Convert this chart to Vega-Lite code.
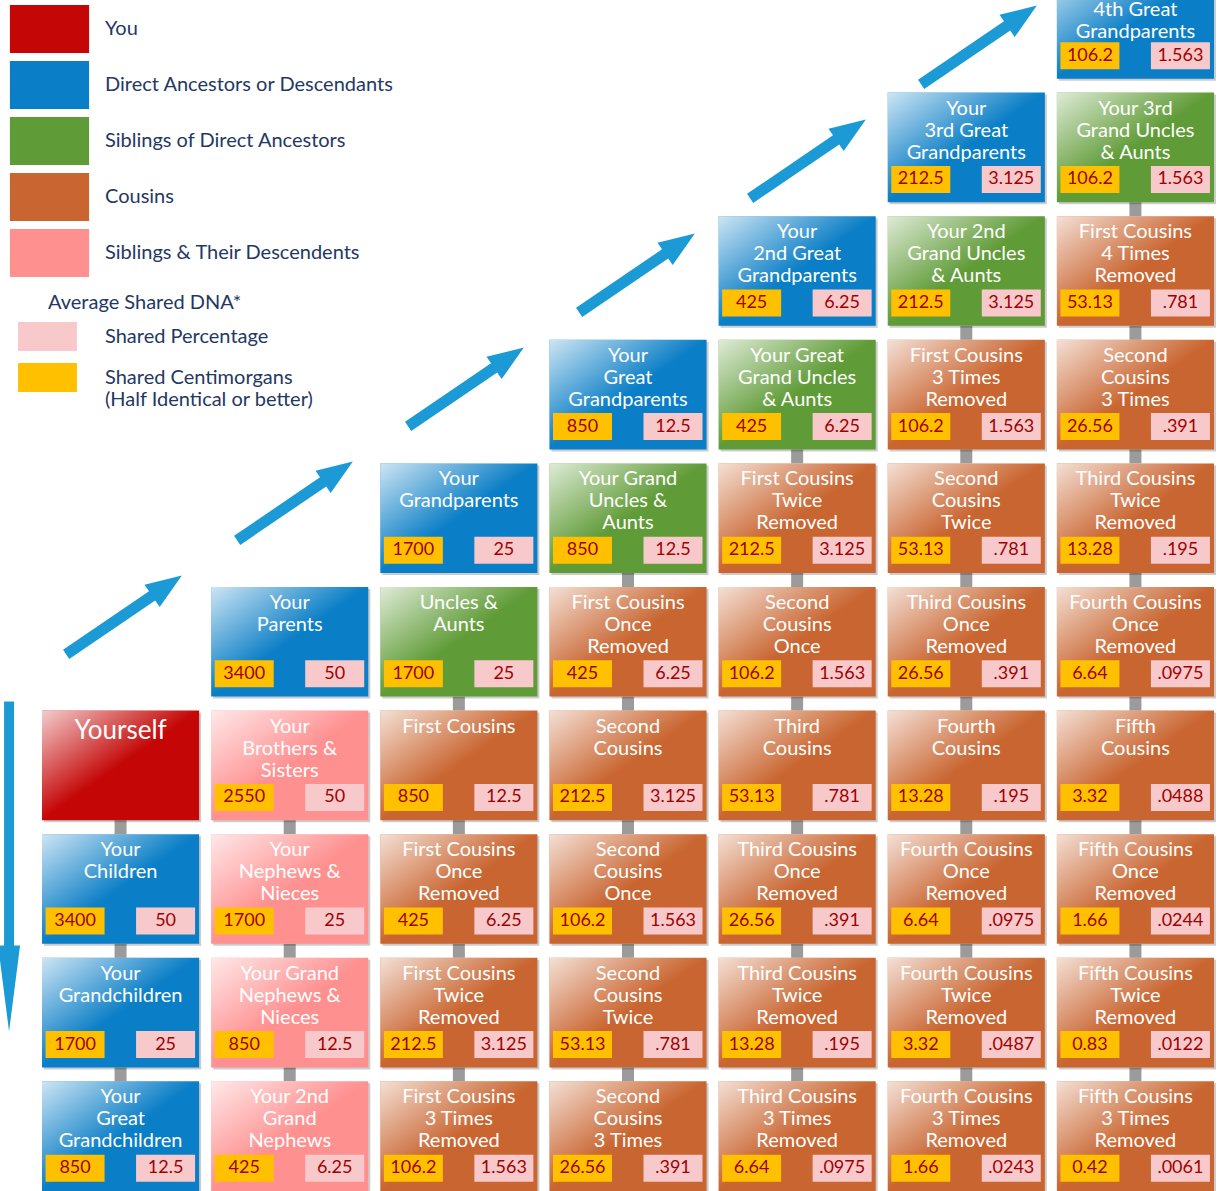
{
 "$schema": "https://vega.github.io/schema/vega-lite/v6.json",
 "width": 1219, "height": 1191,
 "autosize": {"type": "none"},
 "padding": 0,
 "background": "white",
 "config": {"view": {"stroke": null}, "font": "Lato"},
 "datasets": {
  "cells": [
   {"col":6,"gen":6,"cat":"Direct Ancestors or Descendants","title":"4th Great\nGrandparents","cm":"106.2","pct":"1.563"},
   {"col":5,"gen":5,"cat":"Direct Ancestors or Descendants","title":"Your\n3rd Great\nGrandparents","cm":"212.5","pct":"3.125"},
   {"col":6,"gen":5,"cat":"Siblings of Direct Ancestors","title":"Your 3rd\nGrand Uncles\n& Aunts","cm":"106.2","pct":"1.563"},
   {"col":4,"gen":4,"cat":"Direct Ancestors or Descendants","title":"Your\n2nd Great\nGrandparents","cm":"425","pct":"6.25"},
   {"col":5,"gen":4,"cat":"Siblings of Direct Ancestors","title":"Your 2nd\nGrand Uncles\n& Aunts","cm":"212.5","pct":"3.125"},
   {"col":6,"gen":4,"cat":"Cousins","title":"First Cousins\n4 Times\nRemoved","cm":"53.13","pct":".781"},
   {"col":3,"gen":3,"cat":"Direct Ancestors or Descendants","title":"Your\nGreat\nGrandparents","cm":"850","pct":"12.5"},
   {"col":4,"gen":3,"cat":"Siblings of Direct Ancestors","title":"Your Great\nGrand Uncles\n& Aunts","cm":"425","pct":"6.25"},
   {"col":5,"gen":3,"cat":"Cousins","title":"First Cousins\n3 Times\nRemoved","cm":"106.2","pct":"1.563"},
   {"col":6,"gen":3,"cat":"Cousins","title":"Second\nCousins\n3 Times","cm":"26.56","pct":".391"},
   {"col":2,"gen":2,"cat":"Direct Ancestors or Descendants","title":"Your\nGrandparents","cm":"1700","pct":"25"},
   {"col":3,"gen":2,"cat":"Siblings of Direct Ancestors","title":"Your Grand\nUncles &\nAunts","cm":"850","pct":"12.5"},
   {"col":4,"gen":2,"cat":"Cousins","title":"First Cousins\nTwice\nRemoved","cm":"212.5","pct":"3.125"},
   {"col":5,"gen":2,"cat":"Cousins","title":"Second\nCousins\nTwice","cm":"53.13","pct":".781"},
   {"col":6,"gen":2,"cat":"Cousins","title":"Third Cousins\nTwice\nRemoved","cm":"13.28","pct":".195"},
   {"col":1,"gen":1,"cat":"Direct Ancestors or Descendants","title":"Your\nParents","cm":"3400","pct":"50"},
   {"col":2,"gen":1,"cat":"Siblings of Direct Ancestors","title":"Uncles &\nAunts","cm":"1700","pct":"25"},
   {"col":3,"gen":1,"cat":"Cousins","title":"First Cousins\nOnce\nRemoved","cm":"425","pct":"6.25"},
   {"col":4,"gen":1,"cat":"Cousins","title":"Second\nCousins\nOnce","cm":"106.2","pct":"1.563"},
   {"col":5,"gen":1,"cat":"Cousins","title":"Third Cousins\nOnce\nRemoved","cm":"26.56","pct":".391"},
   {"col":6,"gen":1,"cat":"Cousins","title":"Fourth Cousins\nOnce\nRemoved","cm":"6.64","pct":".0975"},
   {"col":0,"gen":0,"cat":"You","title":"Yourself"},
   {"col":1,"gen":0,"cat":"Siblings & Their Descendents","title":"Your\nBrothers &\nSisters","cm":"2550","pct":"50"},
   {"col":2,"gen":0,"cat":"Cousins","title":"First Cousins","cm":"850","pct":"12.5"},
   {"col":3,"gen":0,"cat":"Cousins","title":"Second\nCousins","cm":"212.5","pct":"3.125"},
   {"col":4,"gen":0,"cat":"Cousins","title":"Third\nCousins","cm":"53.13","pct":".781"},
   {"col":5,"gen":0,"cat":"Cousins","title":"Fourth\nCousins","cm":"13.28","pct":".195"},
   {"col":6,"gen":0,"cat":"Cousins","title":"Fifth\nCousins","cm":"3.32","pct":".0488"},
   {"col":0,"gen":-1,"cat":"Direct Ancestors or Descendants","title":"Your\nChildren","cm":"3400","pct":"50"},
   {"col":1,"gen":-1,"cat":"Siblings & Their Descendents","title":"Your\nNephews &\nNieces","cm":"1700","pct":"25"},
   {"col":2,"gen":-1,"cat":"Cousins","title":"First Cousins\nOnce\nRemoved","cm":"425","pct":"6.25"},
   {"col":3,"gen":-1,"cat":"Cousins","title":"Second\nCousins\nOnce","cm":"106.2","pct":"1.563"},
   {"col":4,"gen":-1,"cat":"Cousins","title":"Third Cousins\nOnce\nRemoved","cm":"26.56","pct":".391"},
   {"col":5,"gen":-1,"cat":"Cousins","title":"Fourth Cousins\nOnce\nRemoved","cm":"6.64","pct":".0975"},
   {"col":6,"gen":-1,"cat":"Cousins","title":"Fifth Cousins\nOnce\nRemoved","cm":"1.66","pct":".0244"},
   {"col":0,"gen":-2,"cat":"Direct Ancestors or Descendants","title":"Your\nGrandchildren","cm":"1700","pct":"25"},
   {"col":1,"gen":-2,"cat":"Siblings & Their Descendents","title":"Your Grand\nNephews &\nNieces","cm":"850","pct":"12.5"},
   {"col":2,"gen":-2,"cat":"Cousins","title":"First Cousins\nTwice\nRemoved","cm":"212.5","pct":"3.125"},
   {"col":3,"gen":-2,"cat":"Cousins","title":"Second\nCousins\nTwice","cm":"53.13","pct":".781"},
   {"col":4,"gen":-2,"cat":"Cousins","title":"Third Cousins\nTwice\nRemoved","cm":"13.28","pct":".195"},
   {"col":5,"gen":-2,"cat":"Cousins","title":"Fourth Cousins\nTwice\nRemoved","cm":"3.32","pct":".0487"},
   {"col":6,"gen":-2,"cat":"Cousins","title":"Fifth Cousins\nTwice\nRemoved","cm":"0.83","pct":".0122"},
   {"col":0,"gen":-3,"cat":"Direct Ancestors or Descendants","title":"Your\nGreat\nGrandchildren","cm":"850","pct":"12.5"},
   {"col":1,"gen":-3,"cat":"Siblings & Their Descendents","title":"Your 2nd\nGrand\nNephews","cm":"425","pct":"6.25"},
   {"col":2,"gen":-3,"cat":"Cousins","title":"First Cousins\n3 Times\nRemoved","cm":"106.2","pct":"1.563"},
   {"col":3,"gen":-3,"cat":"Cousins","title":"Second\nCousins\n3 Times","cm":"26.56","pct":".391"},
   {"col":4,"gen":-3,"cat":"Cousins","title":"Third Cousins\n3 Times\nRemoved","cm":"6.64","pct":".0975"},
   {"col":5,"gen":-3,"cat":"Cousins","title":"Fourth Cousins\n3 Times\nRemoved","cm":"1.66","pct":".0243"},
   {"col":6,"gen":-3,"cat":"Cousins","title":"Fifth Cousins\n3 Times\nRemoved","cm":"0.42","pct":".0061"}
  ],
  "arrows": [{"step":1},{"step":2},{"step":3},{"step":4},{"step":5},{"step":6}]
 },
 "layer": [
  {
   "data": {"name": "cells"},
   "layer": [
    {
     "transform": [{"filter": "datum.gen > -3 && (datum.cat != 'Direct Ancestors or Descendants' || datum.gen <= 0)"}],
     "mark": {"type": "point", "shape": "M-6,0H6V14H-6Z", "size": 4, "filled": true, "opacity": 1, "color": "#9B9B9B", "strokeWidth": 0},
     "encoding": {
      "x": {"field":"col","type":"ordinal","scale":{"type":"band","domain":[0,1,2,3,4,5,6],"range":[42,1214],"paddingInner":0.071,"paddingOuter":0},"axis":null},
      "y": {"field":"gen","type":"ordinal","bandPosition":1,"scale":{"type":"band","domain":[6,5,4,3,2,1,0,-1,-2,-3],"range":[-31,1191],"paddingInner":0.113,"paddingOuter":0},"axis":null}
     }
    },
    {
     "mark": {"type": "rect", "color": "#000000", "opacity": 0.2, "xOffset": 2, "yOffset": 2, "x2Offset": 2, "y2Offset": 2},
     "encoding": {
      "x": {"field":"col","type":"ordinal","scale":{"type":"band","domain":[0,1,2,3,4,5,6],"range":[42,1214],"paddingInner":0.071,"paddingOuter":0},"axis":null},
      "y": {"field":"gen","type":"ordinal","scale":{"type":"band","domain":[6,5,4,3,2,1,0,-1,-2,-3],"range":[-31,1191],"paddingInner":0.113,"paddingOuter":0},"axis":null}
     }
    },
    {
     "mark": {"type": "rect", "opacity": 1},
     "encoding": {
      "x": {"field":"col","type":"ordinal","scale":{"type":"band","domain":[0,1,2,3,4,5,6],"range":[42,1214],"paddingInner":0.071,"paddingOuter":0},"axis":null},
      "y": {"field":"gen","type":"ordinal","scale":{"type":"band","domain":[6,5,4,3,2,1,0,-1,-2,-3],"range":[-31,1191],"paddingInner":0.113,"paddingOuter":0},"axis":null},
      "color": {
       "field": "cat", "type": "nominal",
       "scale": {
        "domain": ["You","Direct Ancestors or Descendants","Siblings of Direct Ancestors","Cousins","Siblings & Their Descendents"],
        "range": ["#C40606", "#0A7EC6", "#5F9B36", "#C96530", "#FF9090"]
       },
       "legend": {"title": null, "orient": "none", "legendX": 25.5, "legendY": 5, "symbolType": "M-1.65,-1H1.65V1H-1.65Z", "symbolSize": 2304, "symbolStrokeWidth": 0, "symbolOpacity": 1, "labelFontSize": 20, "labelFont": "Lato", "labelColor": "#1F3864", "labelOffset": 31.5, "rowPadding": 8, "labelLimit": 500, "padding": 0}
      }
     }
    },
    {
     "mark": {"type": "rect", "opacity": 1, "color": {"gradient":"linear","x1":0,"y1":0,"x2":1,"y2":1,"stops":[{"offset":0,"color":"rgba(255,255,255,0.8)"},{"offset":0.5,"color":"rgba(255,255,255,0)"},{"offset":1,"color":"rgba(255,255,255,0)"}]}},
     "encoding": {
      "x": {"field":"col","type":"ordinal","scale":{"type":"band","domain":[0,1,2,3,4,5,6],"range":[42,1214],"paddingInner":0.071,"paddingOuter":0},"axis":null},
      "y": {"field":"gen","type":"ordinal","scale":{"type":"band","domain":[6,5,4,3,2,1,0,-1,-2,-3],"range":[-31,1191],"paddingInner":0.113,"paddingOuter":0},"axis":null}
     }
    },
    {
     "transform": [{"filter": "isValid(datum.cm)"}],
     "mark": {"type": "point", "shape": "M-29.5,-13.5H29.5V13.5H-29.5Z", "size": 4, "filled": true, "opacity": 1, "strokeWidth": 0, "xOffset": -45.5, "yOffset": 32},
     "encoding": {
      "x": {"field":"col","type":"ordinal","scale":{"type":"band","domain":[0,1,2,3,4,5,6],"range":[42,1214],"paddingInner":0.071,"paddingOuter":0},"axis":null},
      "y": {"field":"gen","type":"ordinal","scale":{"type":"band","domain":[6,5,4,3,2,1,0,-1,-2,-3],"range":[-31,1191],"paddingInner":0.113,"paddingOuter":0},"axis":null},
      "fill": {
       "datum": "cm", "type": "nominal",
       "scale": {"domain": ["pct","cm"], "range": ["#F8C9CB","#FFC000"]},
       "legend": {"title": "Average Shared DNA*", "orient": "none", "legendX": 48, "legendY": 293, "titleFontSize": 20, "titleFont": "Lato", "titleColor": "#1F3864", "titleFontWeight": "normal", "titlePadding": 9, "titleLimit": 500, "symbolType": "M-2.03,-1H2.03V1H-2.03Z", "symbolSize": 841, "symbolOffset": -15, "symbolStrokeWidth": 0, "symbolOpacity": 1, "labelExpr": "datum.value == 'pct' ? 'Shared Percentage' : ['Shared Centimorgans', '(Half Identical or better)']", "labelFontSize": 20, "labelFont": "Lato", "labelColor": "#1F3864", "labelOffset": 43, "rowPadding": 12, "labelLimit": 500, "padding": 0}
      }
     }
    },
    {
     "transform": [{"filter": "isValid(datum.pct)"}],
     "mark": {"type": "point", "shape": "M-29.5,-13.5H29.5V13.5H-29.5Z", "size": 4, "filled": true, "opacity": 1, "strokeWidth": 0, "xOffset": 45, "yOffset": 32},
     "encoding": {
      "x": {"field":"col","type":"ordinal","scale":{"type":"band","domain":[0,1,2,3,4,5,6],"range":[42,1214],"paddingInner":0.071,"paddingOuter":0},"axis":null},
      "y": {"field":"gen","type":"ordinal","scale":{"type":"band","domain":[6,5,4,3,2,1,0,-1,-2,-3],"range":[-31,1191],"paddingInner":0.113,"paddingOuter":0},"axis":null},
      "fill": {"datum": "pct", "type": "nominal"}
     }
    },
    {
     "transform": [{"filter": "isValid(datum.cm)"}],
     "mark": {"type": "text", "fontSize": 18, "font": "Lato", "color": "#A00000", "dx": -45.5, "dy": 32, "baseline": "middle", "align": "center"},
     "encoding": {
      "x": {"field":"col","type":"ordinal","scale":{"type":"band","domain":[0,1,2,3,4,5,6],"range":[42,1214],"paddingInner":0.071,"paddingOuter":0},"axis":null},
      "y": {"field":"gen","type":"ordinal","scale":{"type":"band","domain":[6,5,4,3,2,1,0,-1,-2,-3],"range":[-31,1191],"paddingInner":0.113,"paddingOuter":0},"axis":null},
      "text": {"field": "cm", "type": "nominal"}
     }
    },
    {
     "transform": [{"filter": "isValid(datum.pct)"}],
     "mark": {"type": "text", "fontSize": 18, "font": "Lato", "color": "#A00000", "dx": 45, "dy": 32, "baseline": "middle", "align": "center"},
     "encoding": {
      "x": {"field":"col","type":"ordinal","scale":{"type":"band","domain":[0,1,2,3,4,5,6],"range":[42,1214],"paddingInner":0.071,"paddingOuter":0},"axis":null},
      "y": {"field":"gen","type":"ordinal","scale":{"type":"band","domain":[6,5,4,3,2,1,0,-1,-2,-3],"range":[-31,1191],"paddingInner":0.113,"paddingOuter":0},"axis":null},
      "text": {"field": "pct", "type": "nominal"}
     }
    },
    {
     "transform": [{"filter": "datum.cat != 'You' && datum.gen != 6"}],
     "mark": {"type": "text", "lineBreak": "\n", "fontSize": 20, "lineHeight": 22, "font": "Lato", "color": "#FFFFFF", "baseline": "top", "align": "center", "dy": 6},
     "encoding": {
      "x": {"field":"col","type":"ordinal","scale":{"type":"band","domain":[0,1,2,3,4,5,6],"range":[42,1214],"paddingInner":0.071,"paddingOuter":0},"axis":null},
      "y": {"field":"gen","type":"ordinal","bandPosition":0,"scale":{"type":"band","domain":[6,5,4,3,2,1,0,-1,-2,-3],"range":[-31,1191],"paddingInner":0.113,"paddingOuter":0},"axis":null},
      "text": {"field": "title", "type": "nominal"}
     }
    },
    {
     "transform": [{"filter": "datum.gen == 6"}],
     "mark": {"type": "text", "lineBreak": "\n", "fontSize": 20, "lineHeight": 22, "font": "Lato", "color": "#FFFFFF", "baseline": "top", "align": "center", "dy": 31},
     "encoding": {
      "x": {"field":"col","type":"ordinal","scale":{"type":"band","domain":[0,1,2,3,4,5,6],"range":[42,1214],"paddingInner":0.071,"paddingOuter":0},"axis":null},
      "y": {"field":"gen","type":"ordinal","bandPosition":0,"scale":{"type":"band","domain":[6,5,4,3,2,1,0,-1,-2,-3],"range":[-31,1191],"paddingInner":0.113,"paddingOuter":0},"axis":null},
      "text": {"field": "title", "type": "nominal"}
     }
    },
    {
     "transform": [{"filter": "datum.cat == 'You'"}],
     "mark": {"type": "text", "fontSize": 26, "font": "Lato", "color": "#FFFFFF", "baseline": "top", "align": "center", "dy": 7},
     "encoding": {
      "x": {"field":"col","type":"ordinal","scale":{"type":"band","domain":[0,1,2,3,4,5,6],"range":[42,1214],"paddingInner":0.071,"paddingOuter":0},"axis":null},
      "y": {"field":"gen","type":"ordinal","bandPosition":0,"scale":{"type":"band","domain":[6,5,4,3,2,1,0,-1,-2,-3],"range":[-31,1191],"paddingInner":0.113,"paddingOuter":0},"axis":null},
      "text": {"field": "title", "type": "nominal"}
     }
    },
    {
     "data": {"values": [{"col": 0, "gen": -1}]},
     "mark": {"type": "point", "shape": "M-5,-165L5,-165L5,79L11,79L0,165L-11,79L-5,79Z", "size": 4, "filled": true, "opacity": 1, "color": "#1C9AD6", "strokeWidth": 0, "xOffset": -111.5, "yOffset": -22.5},
     "encoding": {
      "x": {"field":"col","type":"ordinal","scale":{"type":"band","domain":[0,1,2,3,4,5,6],"range":[42,1214],"paddingInner":0.071,"paddingOuter":0},"axis":null},
      "y": {"field":"gen","type":"ordinal","scale":{"type":"band","domain":[6,5,4,3,2,1,0,-1,-2,-3],"range":[-31,1191],"paddingInner":0.113,"paddingOuter":0},"axis":null}
     }
    }
   ]
  },
  {
   "data": {"name": "arrows"},
   "mark": {"type": "point", "shape": "M-70,-5.5L34,-5.5L34,-13.5L70,0L34,13.5L34,5.5L-70,5.5Z", "size": 4, "filled": true, "opacity": 1, "color": "#1C9AD6", "strokeWidth": 0, "angle": 325.74},
   "encoding": {
    "x": {"field": "step", "type": "quantitative", "scale": {"domain": [1,6], "range": [124,979], "nice": false, "zero": false}, "axis": null},
    "y": {"field": "step", "type": "quantitative", "scale": {"domain": [1,6], "range": [615,45], "nice": false, "zero": false}, "axis": null}
   }
  }
 ],
 "resolve": {"scale": {"x": "independent", "y": "independent"}}
}
